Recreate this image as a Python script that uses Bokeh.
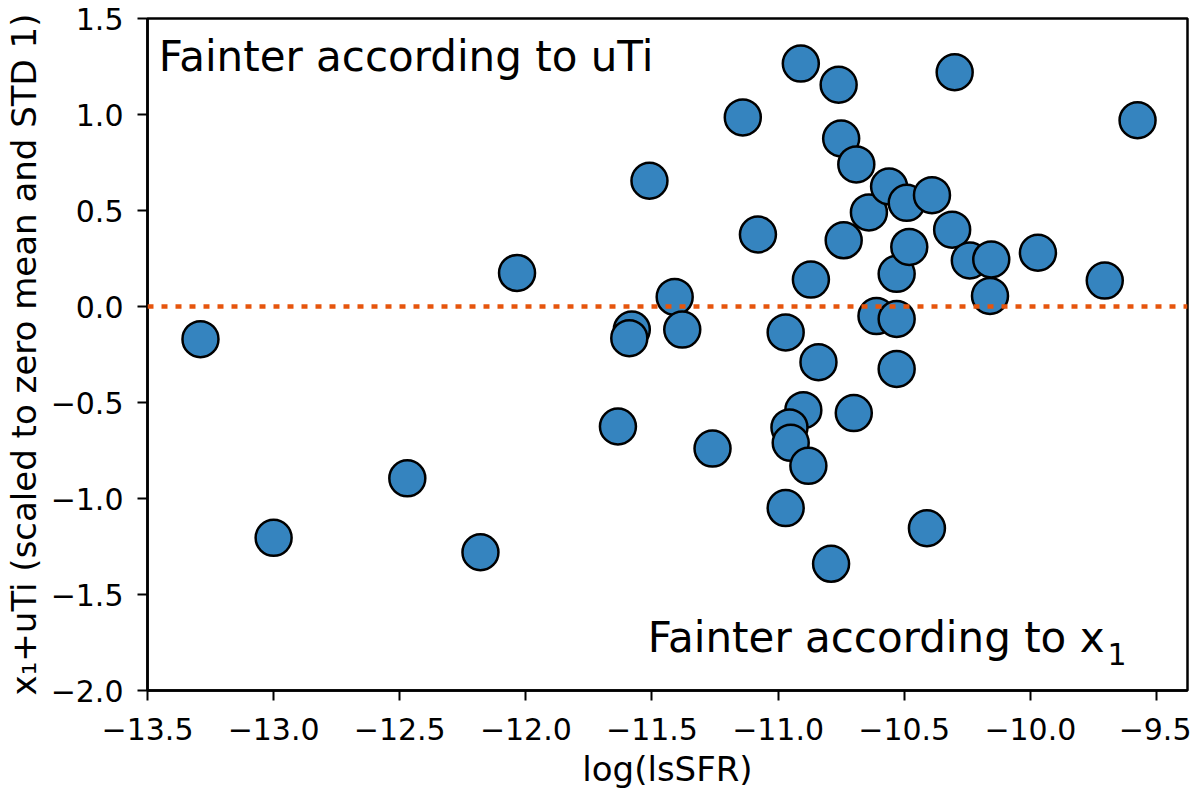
from bokeh.plotting import figure
from bokeh.models import Range1d, FixedTicker, Span, Label, ColumnDataSource
from bokeh.embed import file_html
from bokeh.resources import INLINE

# ---- data ----
log_lssfr = [-13.29, -13.00, -12.47, -12.18, -12.035, -11.635, -11.51, -11.58, -11.59,
             -11.41, -11.38, -11.26, -11.14, -11.08, -10.97, -10.97, -10.91, -10.87,
             -10.84, -10.90, -10.955, -10.95, -10.88, -10.79, -10.76, -10.75, -10.74,
             -10.70, -10.69, -10.64, -10.61, -10.56, -10.53, -10.53, -10.53, -10.49,
             -10.48, -10.39, -10.41, -10.31, -10.30, -10.24, -10.155, -10.16, -9.97,
             -9.705, -9.575]
x1_uti = [-0.17, -1.205, -0.895, -1.28, 0.175, -0.625, 0.655, -0.12, -0.165,
          0.05, -0.12, -0.74, 0.985, 0.375, -0.135, -1.05, 1.265, 0.14,
          -0.29, -0.54, -0.63, -0.71, -0.83, -1.34, 1.155, 0.875, 0.345,
          -0.555, 0.74, 0.49, -0.05, 0.625, -0.065, -0.325, 0.17, 0.54,
          0.31, 0.58, -1.155, 0.40, 1.22, 0.24, 0.245, 0.055, 0.28,
          0.135, 0.97]

x_ticks = [-13.5, -13.0, -12.5, -12.0, -11.5, -11.0, -10.5, -10.0, -9.5]
x_tick_labels = ["\u221213.5", "\u221213.0", "\u221212.5", "\u221212.0", "\u221211.5",
                 "\u221211.0", "\u221210.5", "\u221210.0", "\u22129.5"]
y_ticks = [-2.0, -1.5, -1.0, -0.5, 0.0, 0.5, 1.0, 1.5]
y_tick_labels = ["\u22122.0", "\u22121.5", "\u22121.0", "\u22120.5", "0.0", "0.5", "1.0", "1.5"]

x_label = "log(lsSFR)"
y_label = "x\u2081+uTi (scaled to zero mean and STD 1)"
text_top = "Fainter according to uTi"
text_bottom = "Fainter according to x"
text_bottom_sub = "1"

FONT = "DejaVu Sans"

p = figure(frame_width=1040, frame_height=672,
           x_range=Range1d(-13.5, -9.377), y_range=Range1d(-2.0, 1.5),
           output_backend="svg", toolbar_location=None,
           min_border_left=140, min_border_right=4, min_border_top=18, min_border_bottom=92)

p.background_fill_color = "white"
p.border_fill_color = "white"
p.grid.visible = False
p.outline_line_color = "black"
p.outline_line_width = 2.5
p.outline_line_alpha = 1.0

p.xaxis.ticker = FixedTicker(ticks=x_ticks)
p.yaxis.ticker = FixedTicker(ticks=y_ticks)
p.xaxis.major_label_overrides = {t: l for t, l in zip(x_ticks, x_tick_labels)}
p.yaxis.major_label_overrides = {t: l for t, l in zip(y_ticks, y_tick_labels)}
p.xaxis.axis_label = x_label
p.yaxis.axis_label = y_label

for ax in (p.xaxis, p.yaxis):
    ax.axis_line_color = "black"
    ax.axis_line_width = 2.5
    ax.major_tick_line_color = "black"
    ax.major_tick_line_width = 2
    ax.major_tick_out = 10
    ax.major_tick_in = 0
    ax.minor_tick_line_color = None
    ax.major_label_text_font = FONT
    ax.major_label_text_font_size = "30px"
    ax.major_label_text_color = "black"
    ax.axis_label_text_font = FONT
    ax.axis_label_text_font_size = "34px"
    ax.axis_label_text_font_style = "normal"
    ax.axis_label_text_color = "black"

p.xaxis.major_label_standoff = 17
p.xaxis.axis_label_standoff = 6
p.yaxis.major_label_standoff = 14
p.yaxis.axis_label_standoff = 4

src = ColumnDataSource(data=dict(x=log_lssfr, y=x1_uti))
p.scatter("x", "y", source=src, size=36, fill_color="#3584bf", fill_alpha=1.0,
          line_color="black", line_width=2.5)

p.add_layout(Span(location=0.0, dimension="width", line_color="#e6550d",
                  line_width=4.5, line_dash="6 8"))

p.add_layout(Label(x=-13.455, y=1.30, text=text_top, text_font=FONT,
                   text_font_size="42px", text_align="left", text_baseline="alphabetic",
                   text_color="black"))
p.add_layout(Label(x=-9.706, y=-1.724, text=text_bottom, text_font=FONT,
                   text_font_size="42px", text_align="right", text_baseline="alphabetic",
                   text_color="black"))
p.add_layout(Label(x=-9.694, y=-1.811, text=text_bottom_sub, text_font=FONT,
                   text_font_size="30px", text_align="left", text_baseline="alphabetic",
                   text_color="black"))

open("out.html", "w").write(file_html(p, INLINE))
